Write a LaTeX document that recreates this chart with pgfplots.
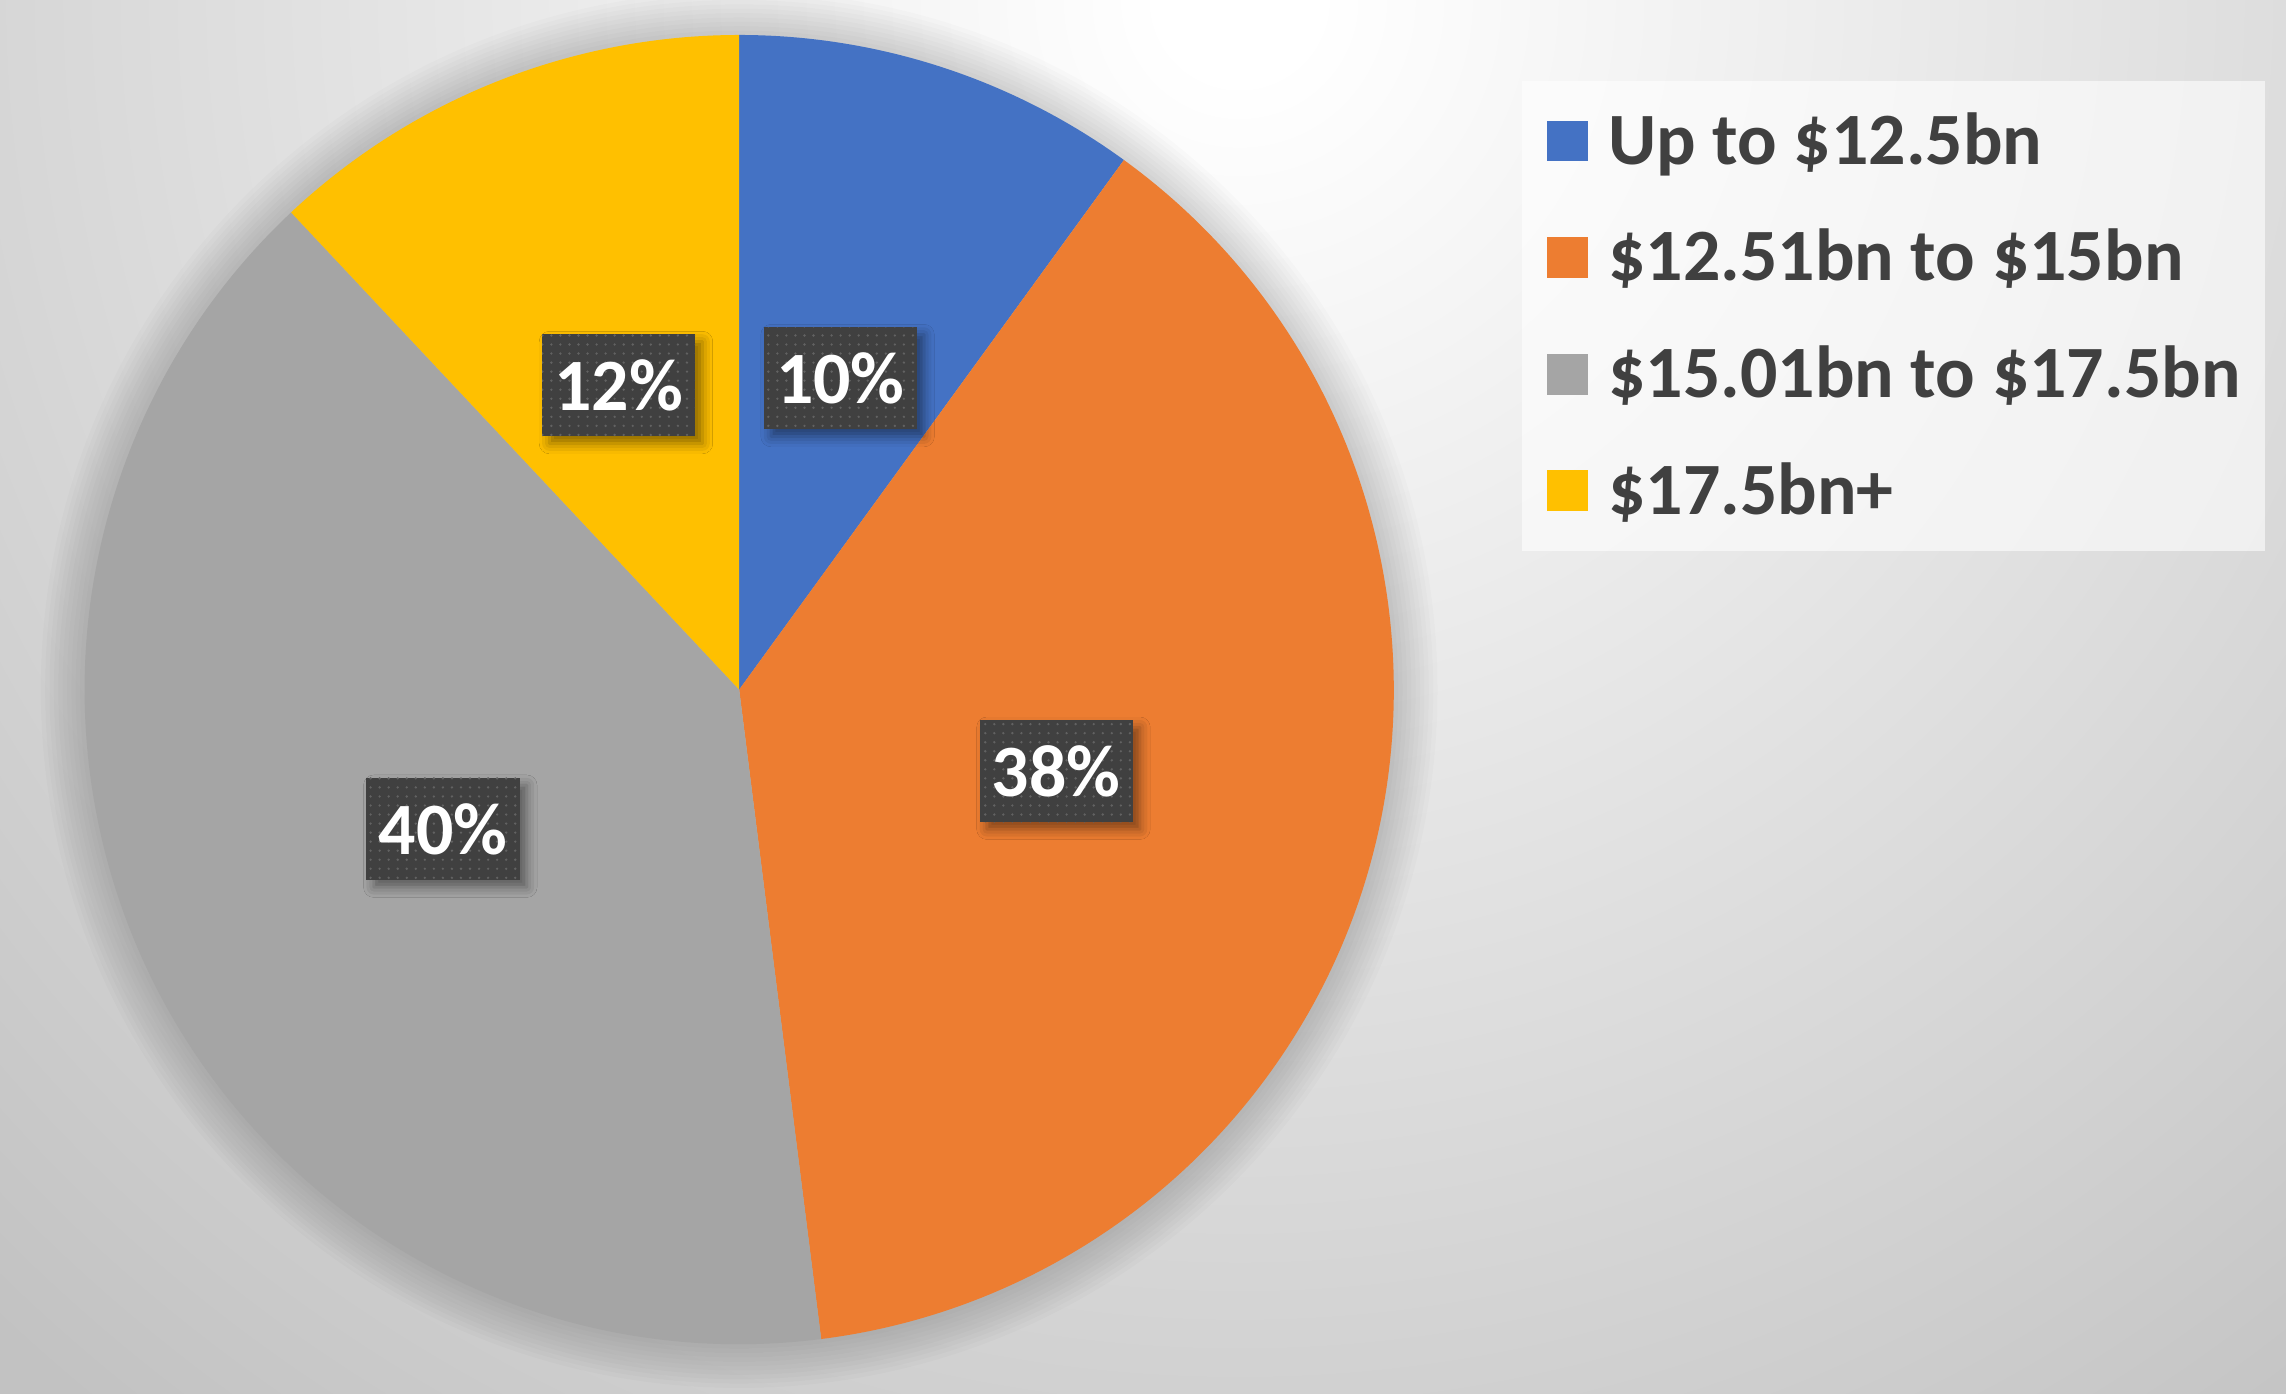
\documentclass[border=0pt]{standalone}
\usepackage{pgfplots}
\pgfplotsset{compat=1.18}
\usepackage{pgfplotstable}
\usepackage{fontspec}
\setmainfont{Carlito}
\usetikzlibrary{shadows.blur,patterns.meta}

\definecolor{cBlue}{HTML}{4472C4}
\definecolor{cOrange}{HTML}{ED7D31}
\definecolor{cGray}{HTML}{A5A5A5}
\definecolor{cYellow}{HTML}{FFC000}
\definecolor{lblbg}{HTML}{404040}
\definecolor{txtgray}{HTML}{404040}
\definecolor{bgEdge}{HTML}{C2C2C2}

% the path's bounding box is mapped to the central 50bp square of the shading
\pgfdeclareradialshading{bgshade}{\pgfpointorigin}{color(0bp)=(white); color(1bp)=(white); color(24bp)=(bgEdge); color(50bp)=(bgEdge)}

\pgfplotstableread{
share
10
38
40
12
}\piedata

\tikzset{
  lbl/.style={fill=lblbg, text=white,
    font=\bfseries\fontsize{14.4}{17}\selectfont,
    minimum width=10.5mm, minimum height=7mm, inner sep=0pt,
    blur shadow={shadow xshift=0.5mm, shadow yshift=-0.5mm,
      shadow blur radius=0.7mm, shadow opacity=45},
    postaction={pattern={Dots[distance=0.62mm, radius=0.09mm]},
      pattern color=white!18!lblbg}}
}

\begin{document}
\begin{tikzpicture}
\pgfplotstablegetelem{0}{share}\of\piedata \let\vA\pgfplotsretval
\pgfplotstablegetelem{1}{share}\of\piedata \let\vB\pgfplotsretval
\pgfplotstablegetelem{2}{share}\of\piedata \let\vC\pgfplotsretval
\pgfplotstablegetelem{3}{share}\of\piedata \let\vD\pgfplotsretval
\pgfmathsetmacro\aZ{90}
\pgfmathsetmacro\aA{\aZ-3.6*\vA}
\pgfmathsetmacro\aB{\aA-3.6*\vB}
\pgfmathsetmacro\aC{\aB-3.6*\vC}
\pgfmathsetmacro\aD{\aC-3.6*\vD}
\pgfmathsetmacro\mA{(\aZ+\aA)/2}
\pgfmathsetmacro\mB{(\aA+\aB)/2}
\pgfmathsetmacro\mC{(\aB+\aC)/2}
\pgfmathsetmacro\mD{(\aC+\aD)/2}

\useasboundingbox (0,0) rectangle (156.8mm,95.55mm);
\begin{scope}
\clip (0,0) rectangle (156.8mm,95.55mm);
\shade[shading=bgshade] (-45mm,-34.45mm) rectangle (215mm,225.55mm);
\end{scope}

\begin{axis}[
  at={(50.7mm,48.25mm)}, anchor=center,
  hide axis, clip=false,
  x=44.9mm, y=44.9mm,
  xmin=-1, xmax=1, ymin=-1, ymax=1,
  legend image code/.code={%
    \path (0mm,0mm) (4.1mm,0mm);
    \fill[#1, fill opacity=1, draw=none] (0mm,-1.4mm) rectangle (2.8mm,1.4mm);},
  legend cell align=left,
  legend style={
    at={(1.0969,0.9655)}, anchor=north west,
    draw=none, fill=white, fill opacity=0.6, text opacity=1,
    font=\bfseries\fontsize{14.4}{17}\selectfont, text=txtgray,
    inner xsep=1.7mm, inner ysep=2.1mm, row sep=4mm,
    nodes={inner sep=0pt, text height=3.6mm, text depth=0.4mm},
  },
]
\addlegendimage{fill=cBlue}\addlegendentry{Up to \$12.5bn}
\addlegendimage{fill=cOrange}\addlegendentry{\$12.51bn to \$15bn}
\addlegendimage{fill=cGray}\addlegendentry{\$15.01bn to \$17.5bn}
\addlegendimage{fill=cYellow}\addlegendentry{\$17.5bn+}

\pgfplotsinvokeforeach{1,...,10}{%
  \fill[black, opacity=0.017] (axis cs:0,0) circle[radius={44.9mm+#1*0.3mm}];}
\fill[cBlue] (axis cs:0,0) -- ++(\aZ:44.9mm) arc[start angle=\aZ, end angle=\aA, radius=44.9mm] -- cycle;
\fill[cOrange] (axis cs:0,0) -- ++(\aA:44.9mm) arc[start angle=\aA, end angle=\aB, radius=44.9mm] -- cycle;
\fill[cGray] (axis cs:0,0) -- ++(\aB:44.9mm) arc[start angle=\aB, end angle=\aC, radius=44.9mm] -- cycle;
\fill[cYellow] (axis cs:0,0) -- ++(\aC:44.9mm) arc[start angle=\aC, end angle=\aD, radius=44.9mm] -- cycle;

\node[lbl] at (axis cs:{0.5*cos(\mA)},{0.5*sin(\mA)}) {\vA\%};
\node[lbl] at (axis cs:{0.5*cos(\mB)},{0.5*sin(\mB)}) {\vB\%};
\node[lbl] at (axis cs:{0.5*cos(\mC)},{0.5*sin(\mC)}) {\vC\%};
\node[lbl] at (axis cs:{0.5*cos(\mD)},{0.5*sin(\mD)}) {\vD\%};
\end{axis}
\end{tikzpicture}
\end{document}
